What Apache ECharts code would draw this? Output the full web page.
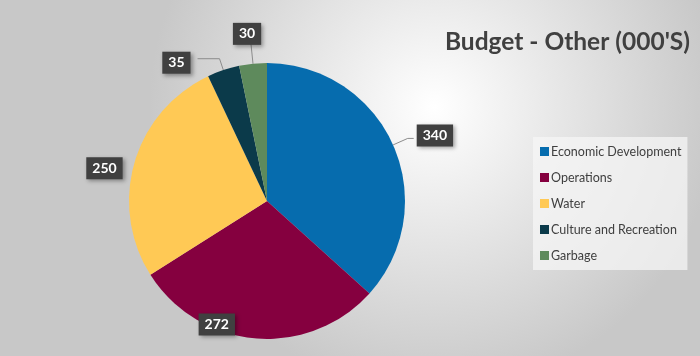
<!DOCTYPE html>
<html>
<head>
<meta charset="utf-8">
<script src="https://cdn.jsdelivr.net/npm/echarts@6/dist/echarts.min.js"></script>
<style>html,body{margin:0;padding:0;}#chart{width:700px;height:356px;}</style>
</head>
<body>
<div id="chart"></div>
<script>
var titleText = "Budget - Other (000'S)";
var categories = ["Economic Development", "Operations", "Water", "Culture and Recreation", "Garbage"];
var values = [340, 272, 250, 35, 30];
var colors = ["#066CAE", "#85003F", "#FFC955", "#0B3A4A", "#5E8A5C"];

// label line / label nudges per slice (styling only)
var lineLen = [16, 4, 4, 12, 28];
var lineLen2 = [6, 0, 6, 22, 0];
var showLine = [true, false, false, true, true];
var labelDx = [1, -18, 0, -5, 13];
var labelDy = [-3, -18, 7, 4, -2];

var data = categories.map(function (c, i) {
  return {
    name: c,
    value: values[i],
    itemStyle: { color: colors[i] },
    labelLine: { show: showLine[i], length: lineLen[i], length2: lineLen2[i] }
  };
});

var chart = echarts.init(document.getElementById('chart'));
chart.setOption({
  backgroundColor: {
    type: 'radial', x: 0.62, y: 0.3, r: 0.8,
    colorStops: [{ offset: 0, color: '#ffffff' }, { offset: 1, color: '#c8c8c8' }]
  },
  animation: false,
  title: {
    text: titleText,
    right: 5, top: 25,
    textStyle: { fontFamily: 'Lato', fontWeight: 'bold', fontSize: 24.5, color: '#404040' }
  },
  legend: {
    orient: 'vertical',
    left: 533, top: 137,
    padding: [8, 6, 8, 7],
    backgroundColor: 'rgba(245,245,245,0.75)',
    itemWidth: 9, itemHeight: 9, itemGap: 13,
    icon: 'rect',
    textStyle: { fontFamily: 'Lato', fontSize: 12.5, color: '#404040', padding: [0, 0, 0, -3] },
    data: categories
  },
  series: [{
    type: 'pie',
    center: [267, 201],
    radius: 138,
    startAngle: 90,
    clockwise: true,
    avoidLabelOverlap: false,
    data: data,
    label: {
      show: true,
      position: 'outside',
      formatter: '{c}',
      color: '#ffffff',
      fontFamily: 'Lato',
      fontWeight: 'bold',
      fontSize: 14,
      backgroundColor: '#404040',
      padding: [4, 6, 4, 6],
      shadowColor: 'rgba(0,0,0,0.35)',
      shadowBlur: 4,
      shadowOffsetX: 2,
      shadowOffsetY: 2,
      distanceToLabelLine: 2
    },
    labelLayout: function (p) {
      return { dx: labelDx[p.dataIndex], dy: labelDy[p.dataIndex] };
    },
    labelLine: { lineStyle: { color: '#8c8c8c', width: 1 } },
    emphasis: { disabled: true }
  }]
});
</script>
</body>
</html>
